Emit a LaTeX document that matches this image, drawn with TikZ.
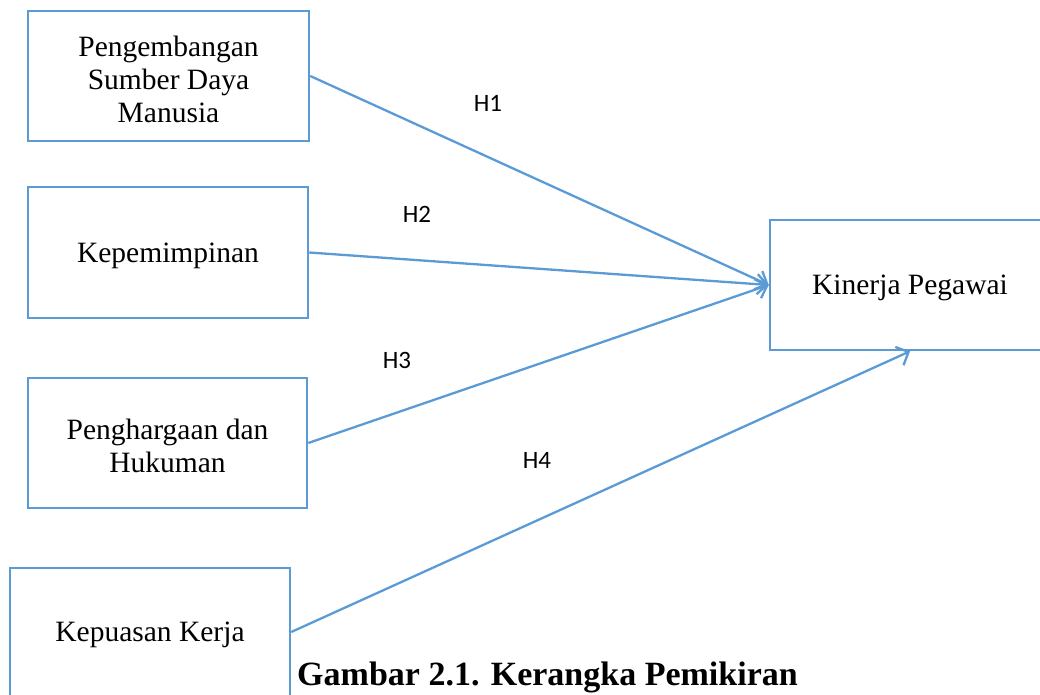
\documentclass[tikz,border=0pt]{standalone}
\usepackage{fontspec}
\setmainfont{Liberation Serif}
\newfontfamily\lblfont{Carlito}
\usetikzlibrary{arrows.meta}
\definecolor{lineblue}{HTML}{5B9BD5}
\tikzset{
  varbox/.style={draw=lineblue, line width=2.5pt, minimum width=280pt, minimum height=130pt,
    inner sep=0pt},
  boxtext/.style={align=center, inner sep=0pt, yshift=-3pt, font=\fontsize{29.5}{33}\selectfont},
  arr/.style={draw=lineblue, line width=2.3pt, -{Straight Barb[length=10pt,width=20pt,line width=2.3pt]}},
  hlabel/.style={font=\lblfont\fontsize{25}{28}\selectfont, inner sep=0pt}
}
\begin{document}
\begin{tikzpicture}[x=1pt,y=-1pt]
\useasboundingbox (0,0) rectangle (1040,695);
\node[varbox, minimum width=281pt] (b1) at (168.5,76) {};
\node[varbox, minimum height=131pt] (b2) at (168,252.5) {};
\node[varbox, minimum width=279pt] (b3) at (167.5,443) {};
\node[varbox, minimum height=128pt] (b4) at (150,632) {};
\node[varbox] (k) at (910,285) {};
\node[boxtext] (t1) at (b1) {Pengembangan\\Sumber Daya\\Manusia};
\node[boxtext] (t2) at (b2) {Kepemimpinan};
\node[boxtext] (t3) at (b3) {Penghargaan dan\\Hukuman};
\node[boxtext] (t4) at (b4) {Kepuasan Kerja};
\node[boxtext] (tk) at (k) {Kinerja Pegawai};
\draw[arr] (b1.east) -- (k.west);
\draw[arr] (b2.east) -- (k.west);
\draw[arr] (b3.east) -- (k.west);
\draw[arr] (b4.east) -- (k.south);
\node[hlabel] (h1) at (488,103) {H1};
\node[hlabel] (h2) at (417,214) {H2};
\node[hlabel] (h3) at (397,360) {H3};
\node[hlabel] (h4) at (537,460) {H4};
\node[anchor=base, inner sep=0pt, font=\bfseries\fontsize{34}{38}\selectfont] (title) at (547.5,685) {Gambar 2.1. Kerangka Pemikiran};
\end{tikzpicture}
\end{document}
